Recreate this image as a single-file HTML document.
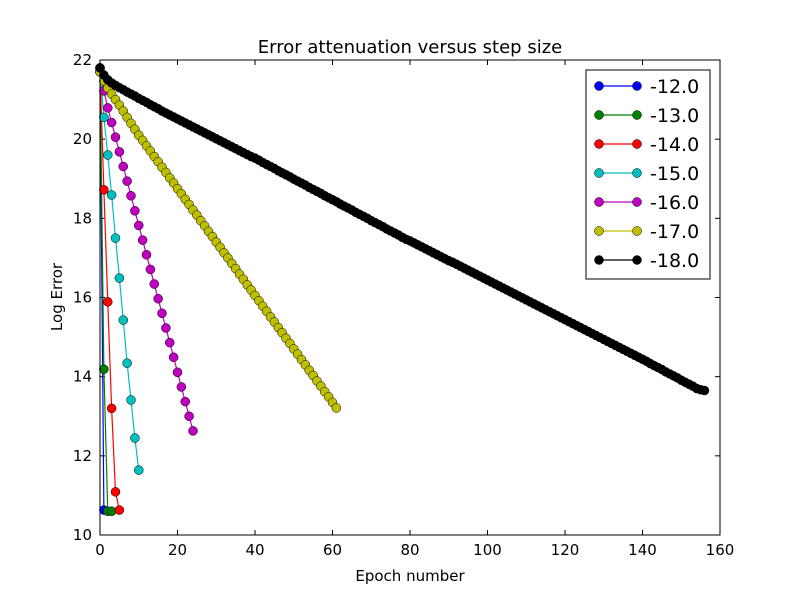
<!DOCTYPE html>
<html><head><meta charset="utf-8"><style>
body{margin:0;background:#fff;width:800px;height:595px;overflow:hidden}
svg{display:block;font-family:"DejaVu Sans","Liberation Sans",sans-serif}
</style></head><body>
<svg id="chart" width="800" height="595" viewBox="0 0 800 595" xmlns="http://www.w3.org/2000/svg">
<rect width="800" height="595" fill="#fff"/>
<text x="410" y="53" text-anchor="middle" font-size="18">Error attenuation versus step size</text>
<text x="410" y="581" text-anchor="middle" font-size="15">Epoch number</text>
<text transform="translate(62,297) rotate(-90)" text-anchor="middle" font-size="15">Log Error</text>
<g id="axes"></g>
<g id="series"></g>
<rect x="100" y="60" width="620" height="475" fill="none" stroke="#000" stroke-width="1"/>
<g id="legend"></g>
</svg>
<script>
const xTicks=[0,20,40,60,80,100,120,140,160];
const yTicks=[10,12,14,16,18,20,22];
const seriesNames=["-12.0","-13.0","-14.0","-15.0","-16.0","-17.0","-18.0"];
const seriesColors=["#0000ff","#008000","#ff0000","#00bfbf","#bf00bf","#bfbf00","#000000"];
const s12=[21.8,10.63];
const s13=[21.8,14.19,10.6,10.6];
const s14=[21.7,18.72,15.89,13.2,11.09,10.63];
const s15=[21.7,20.55,19.6,18.59,17.5,16.49,15.43,14.34,13.41,12.45,11.64];
const s16=[21.75,21.22,20.79,20.42,20.05,19.68,19.31,18.94,18.57,18.19,17.82,17.45,17.08,16.71,16.34,15.97,15.60,15.23,14.86,14.49,14.11,13.74,13.37,13.00,12.63];
const s17=[21.7,21.47,21.29,21.14,21.0,20.86,20.71,20.55,20.40,20.25,20.10,19.97,19.83,19.70,19.56,19.43,19.29,19.16,19.02,18.89,18.75,18.62,18.48,18.35,18.21,18.08,17.94,17.81,17.67,17.54,17.40,17.27,17.13,17.00,16.86,16.73,16.59,16.46,16.32,16.19,16.05,15.92,15.78,15.65,15.51,15.38,15.24,15.11,14.97,14.84,14.70,14.57,14.43,14.30,14.16,14.03,13.89,13.76,13.62,13.49,13.35,13.21];
const s18=[21.8,21.62,21.5,21.42,21.36,21.3,21.25,21.19,21.14,21.09,21.03,20.98,20.93,20.87,20.82,20.77,20.71,20.66,20.61,20.56,20.51,
20.46,20.41,20.36,20.31,20.26,20.21,20.16,20.11,20.06,20.01,19.96,19.91,19.86,19.81,19.76,19.71,19.66,19.61,19.56,19.52,
19.47,19.41,19.36,19.31,19.26,19.20,19.15,19.10,19.05,18.99,18.94,18.89,18.84,18.78,18.73,18.68,18.63,18.57,18.52,18.47,
18.42,18.36,18.31,18.26,18.21,18.15,18.10,18.05,18.00,17.94,17.89,17.84,17.79,17.73,17.68,17.63,17.58,17.52,17.47,17.43,
17.38,17.33,17.28,17.23,17.18,17.13,17.08,17.03,16.98,16.93,16.89,16.84,16.79,16.74,16.69,16.64,16.59,16.54,16.49,16.44,
16.39,16.34,16.29,16.24,16.19,16.14,16.09,16.04,15.99,15.94,15.89,15.84,15.79,15.74,15.69,15.64,15.59,15.54,15.49,15.44,
15.39,15.34,15.29,15.24,15.19,15.14,15.09,15.04,14.99,14.94,14.89,14.84,14.79,14.74,14.69,14.64,14.59,14.54,14.49,14.44,
14.39,14.33,14.28,14.23,14.18,14.12,14.07,14.02,13.97,13.91,13.86,13.81,13.76,13.70,13.67,13.65];
const allSeries=[s12,s13,s14,s15,s16,s17,s18];

const NS="http://www.w3.org/2000/svg";
const X0=100,X1=720,Y0=535,Y1=60;
function xs(v){return X0+(v-0)/(160-0)*(X1-X0);}
function ys(v){return Y0-(v-10)/(22-10)*(Y0-Y1);}
function mk(tag,attrs,parent){const e=document.createElementNS(NS,tag);for(const k in attrs)e.setAttribute(k,attrs[k]);parent.appendChild(e);return e;}

const axes=document.getElementById('axes');
xTicks.forEach(t=>{
  const x=xs(t);
  const a=mk('line',{x1:x,x2:x,y1:Y0,y2:Y0-5,stroke:'#000'},axes);
  
  
  mk('line',{x1:x,x2:x,y1:Y1,y2:Y1+5,stroke:'#000'},axes);
  const l=mk('text',{x:x,y:Y0+20,'text-anchor':'middle','font-size':'15'},axes);
  l.textContent=t;
  
  
});
yTicks.forEach(t=>{
  const y=ys(t);
  const a=mk('line',{x1:X0,x2:X0+5,y1:y,y2:y,stroke:'#000'},axes);
  
  
  mk('line',{x1:X1,x2:X1-5,y1:y,y2:y,stroke:'#000'},axes);
  const l=mk('text',{x:X0-8,y:y+5,'text-anchor':'end','font-size':'15'},axes);
  l.textContent=t;
  
  
});

const sg=document.getElementById('series');
allSeries.forEach((arr,i)=>{
  const g=mk('g',{},sg);
  
  
  const pts=arr.map((v,k)=>xs(k)+','+ys(v)).join(' ');
  mk('polyline',{points:pts,fill:'none',stroke:seriesColors[i],'stroke-width':'1.2'},g);
  arr.forEach((v,k)=>{
    const c=mk('circle',{cx:xs(k),cy:ys(v),r:4.5,fill:seriesColors[i],stroke:'#000','stroke-width':'0.5'},g);
    
    
  });
});

const lg=document.getElementById('legend');
const box=mk('rect',{x:586,y:70,width:124,height:209,fill:'#fff',stroke:'#000','stroke-width':'1'},lg);


seriesNames.forEach((n,i)=>{
  const y=86+i*29;
  const g=mk('g',{},lg);
  
  
  mk('line',{x1:599,x2:637,y1:y,y2:y,stroke:seriesColors[i],'stroke-width':'1.2'},g);
  mk('circle',{cx:599,cy:y,r:4.5,fill:seriesColors[i],stroke:'#000','stroke-width':'0.5'},g);
  mk('circle',{cx:637,cy:y,r:4.5,fill:seriesColors[i],stroke:'#000','stroke-width':'0.5'},g);
  const t=mk('text',{x:650,y:y+7,'font-size':'19'},g);
  t.textContent=n;
});
</script>
</body></html>
